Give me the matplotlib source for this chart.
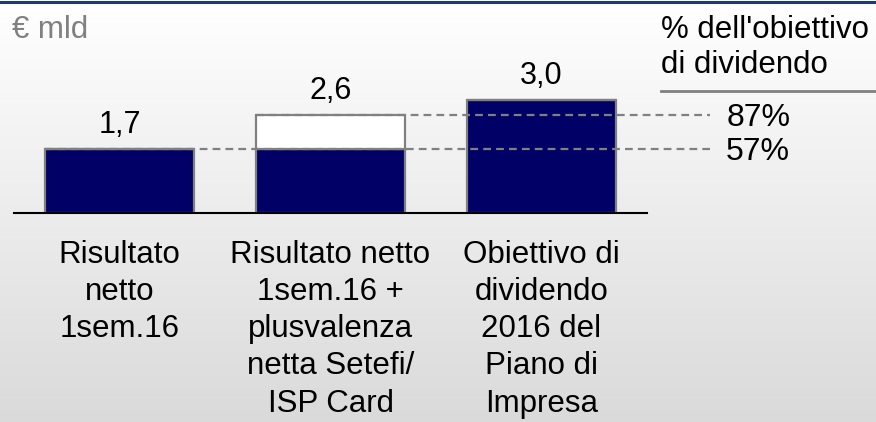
import numpy as np
import matplotlib
matplotlib.use("Agg")
import matplotlib.pyplot as plt
from matplotlib.lines import Line2D
import matplotlib.transforms as mtransforms

plt.rcParams["font.family"] = ["Liberation Sans", "DejaVu Sans"]

categories = [
    "Risultato\nnetto\n1sem.16",
    "Risultato netto\n1sem.16 +\nplusvalenza\nnetta Setefi/\nISP Card",
    "Obiettivo di\ndividendo\n2016 del\nPiano di\nImpresa",
]
base_values = [1.7, 1.7, 3.0]
extra_values = [0.0, 0.9, 0.0]
value_labels = ["1,7", "2,6", "3,0"]
ref_levels = [2.6, 1.7]
ref_labels = ["87%", "57%"]
ref_starts = [1, 0]  # bar where each dashed line starts

navy = "#000066"
grey = "#808080"

W, H = 876, 422
fig = plt.figure(figsize=(W / 100, H / 100), dpi=100)

# background gradient
bg = fig.add_axes([0, 0, 1, 1], zorder=-10)
grad = np.linspace(1.0, 0.855, 256).reshape(-1, 1)
bg.imshow(np.dstack([grad, grad, grad]), aspect="auto", extent=[0, 1, 0, 1])
bg.axis("off")

# top navy rule
fig.add_artist(Line2D([0, 1], [1 - 1.5 / H, 1 - 1.5 / H], color="#1F3A6E",
                      lw=2.2, transform=fig.transFigure))

# main axes: x -0.5..2.5 maps to 14..647 px, baseline at y=213 px
scale = 37.8  # px per unit
ymax = 4.0
ax = fig.add_axes([14 / W, (H - 213) / H, 633 / W, ymax * scale / H])
ax.set_xlim(-0.5, 2.5)
ax.set_ylim(0, ymax)
ax.axis("off")
ax.patch.set_alpha(0)

x = np.arange(len(categories))
bw = 0.71
ax.bar(x, base_values, width=bw, color=navy, edgecolor=grey, lw=1.6, zorder=2)
ax.bar(x, extra_values, width=bw, bottom=base_values, color="white",
       edgecolor=grey, lw=1.6, zorder=2)
ax.plot([-0.5, 2.5], [0, 0], color="black", lw=1.5, clip_on=False, zorder=3)

totals = [b + e for b, e in zip(base_values, extra_values)]
for xi, t, lab in zip(x, totals, value_labels):
    ax.annotate(lab, (xi, t), xytext=(0, 6), textcoords="offset points",
                ha="center", va="bottom", fontsize=22, color="black")

x_end = (710 - 120) / 211
for lvl, lab, s in zip(ref_levels, ref_labels, ref_starts):
    ax.plot([s - bw / 2, x_end], [lvl, lvl], color=grey, lw=1.6,
            dashes=(3.5, 2.3), clip_on=False, zorder=4)
    ax.annotate(lab, (x_end, lvl), xytext=(12, -2.5), textcoords="offset points",
                ha="left", va="center", fontsize=23, color="black",
                annotation_clip=False)

trans = mtransforms.blended_transform_factory(ax.transData, fig.transFigure)
for xi, cat in zip(x, categories):
    ax.text(xi, 1 - 240 / H, cat, transform=trans, ha="center", va="top",
            multialignment="center", fontsize=22.5, linespacing=1.31,
            color="black")

fig.text(12 / W, 1 - 30 / H, "€ mld", ha="left", va="center", fontsize=22.5,
         color=grey)
fig.text(661 / W, 1 - 47.5 / H, "% dell'obiettivo\ndi dividendo", ha="left",
         va="center", fontsize=22.5, linespacing=1.19, color="black")
fig.add_artist(Line2D([661 / W, 1], [1 - 91 / H, 1 - 91 / H], color=grey,
                      lw=2, transform=fig.transFigure))

fig.savefig("out.png", dpi=100)
